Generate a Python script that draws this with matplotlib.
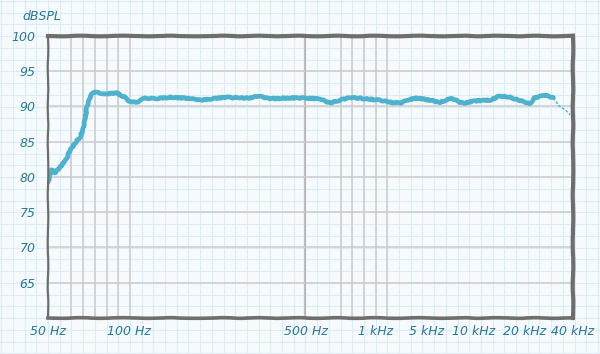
import matplotlib
matplotlib.use("Agg")
import matplotlib.pyplot as plt
import numpy as np

# ---- data ----
freq_hz = [50, 51.7, 53.1, 55.4, 58.3, 60.4, 63.0, 65.8, 67.5, 68.6, 69.8, 71.6,
           73.5, 76.7, 81.4, 86.5, 90.2, 96.6, 100, 102.8, 108.5, 115.7, 126.7,
           145.2, 166.4, 190.7, 239, 300, 323, 360, 432, 495, 574, 634, 700, 772,
           897, 1134, 1556, 2134, 2745, 3423, 4270, 6058, 7225, 8135, 8757,
           10136, 12430, 14240, 16320, 21400, 22900, 26240, 28090, 30060,
           33060, 35880, 38400]
spl_db = [79.3, 81.0, 80.6, 81.4, 82.4, 83.8, 84.8, 85.7, 86.7, 88.1, 90.0, 91.3,
          92.0, 92.0, 91.7, 91.9, 91.9, 91.3, 90.8, 90.6, 90.7, 91.2, 91.1,
          91.3, 91.2, 90.9, 91.3, 91.2, 91.5, 91.1, 91.2, 91.2, 91.1, 90.5, 90.9,
          91.3, 91.1, 90.9, 90.6, 90.5, 90.9, 91.2, 91.1, 90.6, 91.2, 90.6,
          90.5, 90.8, 90.9, 91.5, 91.3, 90.4, 91.2, 91.6, 91.5, 91.2,
          90.0, 89.5, 88.8]

tick_freqs = [50, 100, 500, 1000, 5000, 10000, 20000, 40000]
tick_labels = ["50 Hz", "100 Hz", "500 Hz", "1 kHz", "5 kHz", "10 kHz", "20 kHz", "40 kHz"]
y_ticks = [65, 70, 75, 80, 85, 90, 95, 100]

# the axis is not a plain log axis: each labelled frequency sits at its own spot
AXIS_POS = [48, 129, 306, 376, 427, 474, 525, 573]

C_TEXT = "#2a7896"
C_CURVE = "#4fb2cd"
C_FRAME = "#6e6e6e"
C_MAJOR = "#c9cccd"
C_PAPER = "#dcedf5"

fig = plt.figure(figsize=(6.0, 3.54), dpi=100, facecolor="#f6fafd")

# graph paper background in pixel units
bg = fig.add_axes([0, 0, 1, 1], zorder=-1)
bg.set_xlim(0, 600)
bg.set_ylim(354, 0)
bg.axis("off")
step_x, step_y = 11.7, 11.75
for k in range(-5, 50):
    bg.axvline(48 + k * step_x, color=C_PAPER, lw=0.8)
for k in range(-4, 30):
    bg.axhline(36 + k * step_y, color=C_PAPER, lw=0.8)
# darker vertical rulings inside the plot area
for k in [2, 3, 4, 5, 6, 7, 25, 26, 27, 28, 29]:
    bg.plot([48 + k * step_x] * 2, [36, 318], color=C_MAJOR, lw=1.1)
bg.plot([48 + 22 * step_x] * 2, [36, 318], color="#b9bcbd", lw=1.6)

ax = fig.add_axes([48 / 600, 1 - 318 / 354, 525 / 600, 282 / 354])
ax.patch.set_alpha(0)

logs = np.log10(tick_freqs)


def fwd(f):
    f = np.clip(np.asarray(f, dtype=float), 1e-6, None)
    return np.interp(np.log10(f), logs, AXIS_POS)


def inv(p):
    return 10 ** np.interp(p, AXIS_POS, logs)


ax.set_xscale("function", functions=(fwd, inv))
ax.set_xlim(50, 40000)
ax.set_ylim(60, 100)

f = np.array(freq_hz)
s = np.array(spl_db)
main = f <= 30060
ln, = ax.plot(f[main], s[main], color=C_CURVE, lw=3.4, solid_capstyle="round",
              solid_joinstyle="round")
ln.set_sketch_params(scale=0.5, length=8, randomness=4)
tail = f >= 30060
ax.plot(f[tail], s[tail], color=C_CURVE, lw=1.0, ls=(0, (2, 1.2)))

ax.set_xticks(tick_freqs)
ax.set_xticklabels(tick_labels)
ax.xaxis.set_minor_locator(matplotlib.ticker.NullLocator())
ax.set_yticks(y_ticks)
ax.set_yticklabels([str(v) for v in y_ticks])
ax.tick_params(length=0, colors=C_TEXT, labelsize=9)
ax.tick_params(axis="x", pad=5)
ax.tick_params(axis="y", pad=9)
for lab in ax.get_xticklabels() + ax.get_yticklabels():
    lab.set_fontstyle("italic")

ax.yaxis.grid(True, color=C_MAJOR, lw=1.1)
ax.set_axisbelow(True)

for side, lw in [("left", 1.6), ("top", 3.0), ("right", 3.0), ("bottom", 2.6)]:
    sp = ax.spines[side]
    sp.set_color(C_FRAME)
    sp.set_linewidth(lw)
    sp.set_sketch_params(scale=0.3, length=60, randomness=4)

fig.text(22 / 600, 1 - 17 / 354, "dBSPL", color=C_TEXT, fontsize=9,
         fontstyle="italic", va="center", ha="left")

fig.savefig("out.png", dpi=100, facecolor=fig.get_facecolor())
